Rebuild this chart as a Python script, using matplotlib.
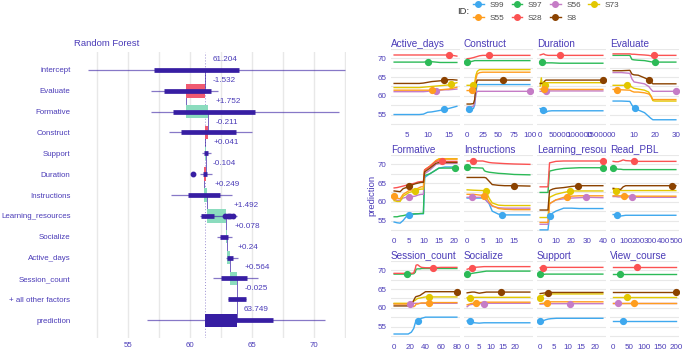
import numpy as np
import matplotlib.pyplot as plt
from matplotlib.lines import Line2D
from matplotlib.transforms import Bbox, TransformedBbox

plt.rcParams['font.family'] = ['Liberation Sans', 'DejaVu Sans']

W, H = 685, 352
PURPLE = "#371ea3"
TXT = "#4b3cb8"
GRID = "#e8e8e8"

# ---- break down (left) ----
bd_vars = ["intercept", "Evaluate", "Formative", "Construct", "Support", "Duration",
           "Instructions", "Learning_resources", "Socialize", "Active_days",
           "Session_count", "+ all other factors", "prediction"]
bd_intercept = 61.204
bd_contrib = [-1.532, 1.752, -0.211, 0.041, -0.104, 0.249, 1.492, 0.078, 0.24, 0.564, -0.025]
bd_prediction = 63.749

# boxplot summaries per row (whiskers, box)
bd_whisk_lo = [51.77, 56.85, 56.85, 58.31, 60.97, 60.81, 58.47, 60.81, 62.20, 62.90, 61.85, 63.06, 56.53]
bd_whisk_hi = [72.50, 62.26, 72.02, 65.00, 61.69, 61.77, 63.39, 63.79, 63.40, 63.87, 65.48, 64.52, 70.89]
bd_box_lo = [57.10, 57.90, 58.63, 59.27, 61.13, 61.05, 59.84, 60.89, 62.40, 62.98, 62.50, 63.06, 61.29]
bd_box_hi = [63.95, 61.69, 65.24, 63.71, 61.45, 61.37, 62.42, 61.94, 63.05, 63.47, 64.60, 64.52, 66.69]
bd_outlier_row = [5, 7, 7, 7, 7]
bd_outlier_val = [60.24, 62.85, 63.05, 63.25, 63.45]

# ---- ceteris paribus profiles (right) ----
ids = ["S99", "S97", "S56", "S73", "S55", "S28", "S8"]
id_colors = ["#3ea8ee", "#2cba57", "#c57cc6", "#e2c700", "#ff9d1e", "#fb5252", "#8b4200"]

# each *_y list holds one profile per ID, in the order of `ids`
active_days_x = [2, 4, 6, 8, 9, 10, 11, 12, 13, 14, 15, 16, 17]
active_days_y = [
    [55.0, 55.0, 55.0, 55.0, 55.1, 55.6, 55.7, 55.9, 56.1, 56.4, 56.6, 56.9, 57.2],
    [69.0, 69.0, 69.0, 69.0, 69.0, 69.1, 69.1, 69.0, 68.9, 68.9, 68.9, 68.9, 68.9],
    [61.1, 61.1, 61.1, 61.1, 61.1, 61.2, 61.3, 61.3, 61.5, 61.6, 61.6, 61.7, 61.8],
    [62.2, 62.2, 62.2, 62.2, 62.3, 62.4, 62.5, 62.6, 62.7, 62.8, 62.9, 63.2, 63.5],
    [61.5, 61.5, 61.5, 61.5, 61.5, 61.5, 61.5, 61.5, 61.6, 61.7, 61.8, 62.0, 62.3],
    [70.9, 70.9, 70.9, 70.9, 70.9, 70.9, 70.9, 70.9, 70.9, 70.9, 70.9, 70.8, 70.6],
    [63.3, 63.3, 63.3, 63.3, 63.4, 63.6, 63.8, 63.9, 64.0, 64.2, 64.3, 64.3, 64.2]]
active_days_obs = [14, 10, 12, 15.5, 11, 15, 14]

construct_x = [0, 5, 10, 12, 14, 16, 18, 20, 25, 40, 60, 80, 100]
construct_y = [
    [56.5, 56.5, 56.6, 57.5, 61.0, 63.0, 63.0, 63.0, 63.0, 63.0, 63.0, 63.0, 63.0],
    [69.0, 69.1, 69.3, 69.4, 69.4, 69.4, 69.4, 69.4, 69.4, 69.4, 69.4, 69.4, 69.4],
    [57.0, 57.0, 57.2, 58.0, 60.5, 61.2, 61.2, 61.2, 61.2, 61.2, 61.2, 61.2, 61.2],
    [62.8, 62.8, 62.9, 63.5, 65.5, 66.5, 66.8, 67.0, 67.0, 67.0, 67.0, 67.0, 67.0],
    [61.4, 61.4, 61.5, 62.5, 64.5, 65.8, 66.0, 66.2, 66.3, 66.3, 66.3, 66.3, 66.3],
    [69.9, 70.0, 70.2, 70.3, 70.4, 70.5, 70.6, 70.7, 70.8, 70.8, 70.8, 70.8, 70.8],
    [57.8, 57.8, 57.9, 59.0, 63.0, 64.2, 64.2, 64.2, 64.2, 64.2, 64.2, 64.2, 64.2]]
construct_obs = [3, 0, 100, 9, 8, 35, 57]

duration_x = [0, 3000, 6000, 9000, 12000, 15000, 20000, 30000, 50000, 80000, 120000, 160000]
duration_y = [
    [56.6, 56.5, 56.4, 56.3, 55.8, 55.6, 55.9, 56.0, 56.0, 56.0, 56.0, 56.0],
    [69.1, 69.1, 69.0, 68.9, 68.8, 68.8, 68.8, 68.8, 68.7, 68.7, 68.7, 68.7],
    [61.2, 61.2, 61.1, 61.1, 61.2, 61.3, 61.3, 61.3, 61.3, 61.3, 61.3, 61.3],
    [62.6, 64.8, 62.5, 63.8, 62.9, 63.5, 63.5, 63.5, 63.5, 63.5, 63.5, 63.5],
    [61.8, 61.8, 61.7, 61.7, 61.7, 61.7, 61.7, 61.7, 61.7, 61.7, 61.7, 61.7],
    [70.9, 71.0, 71.1, 71.2, 71.0, 70.9, 70.8, 70.8, 70.8, 70.8, 70.8, 70.8],
    [63.3, 63.3, 63.3, 63.3, 64.0, 64.2, 64.2, 64.2, 64.2, 64.2, 64.2, 64.2]]
duration_obs = [8000, 5000, 15000, 12000, 10000, 50000, 160000]

evaluate_x = [0, 4, 8, 9, 10, 12, 15, 17, 18, 19, 20, 25, 30]
evaluate_y = [
    [58.6, 58.6, 58.5, 57.5, 56.8, 56.2, 55.5, 54.5, 54.0, 53.6, 53.6, 53.6, 53.6],
    [70.8, 70.8, 70.8, 69.7, 69.6, 69.5, 69.4, 69.2, 69.1, 69.0, 69.0, 69.0, 69.0],
    [66.2, 66.2, 66.0, 64.5, 63.7, 63.5, 63.2, 62.5, 61.8, 61.2, 61.2, 61.2, 61.2],
    [62.8, 62.8, 62.8, 62.3, 62.0, 61.8, 61.5, 61.0, 60.0, 58.7, 58.6, 58.6, 58.6],
    [61.7, 61.6, 61.5, 61.2, 61.0, 61.0, 60.8, 60.5, 60.0, 59.0, 59.0, 59.0, 59.0],
    [71.2, 71.2, 71.2, 71.1, 71.1, 71.0, 70.9, 70.8, 70.7, 70.8, 70.8, 70.8, 70.8],
    [66.7, 66.7, 66.8, 65.8, 65.6, 65.5, 64.8, 64.3, 63.8, 63.2, 63.2, 63.2, 63.2]]
evaluate_obs = [10.5, 20, 30, 6.5, 2, 19.5, 17]

formative_x = [0, 1, 2, 3, 4, 5, 7, 8, 9, 9.8, 10.2, 12, 14, 15, 17, 21]
formative_y = [
    [54.6, 54.4, 54.3, 55.0, 56.0, 56.5, 56.7, 56.8, 56.8, 56.8, 66.5, 67.5, 68.5, 69.0, 69.3, 69.3],
    [56.0, 56.0, 56.2, 56.3, 56.5, 56.7, 56.8, 56.8, 56.9, 56.9, 67.0, 67.5, 68.5, 69.0, 69.0, 69.0],
    [60.5, 60.4, 60.4, 61.0, 61.2, 61.3, 61.5, 61.8, 62.0, 62.0, 67.5, 68.5, 70.0, 70.2, 70.3, 70.3],
    [60.3, 60.1, 60.1, 61.5, 62.0, 62.5, 62.9, 63.2, 63.4, 63.4, 68.5, 69.5, 71.0, 71.5, 71.5, 71.5],
    [61.5, 61.0, 60.8, 62.0, 62.5, 63.0, 63.3, 63.6, 64.0, 64.0, 68.5, 69.5, 71.0, 71.3, 71.4, 71.4],
    [63.7, 63.8, 64.0, 64.2, 64.4, 64.6, 65.0, 65.3, 65.4, 65.4, 68.5, 69.5, 70.8, 70.9, 70.8, 70.8],
    [62.9, 62.8, 62.7, 63.5, 63.8, 64.2, 64.8, 65.0, 65.2, 65.2, 68.0, 69.0, 70.3, 70.5, 70.5, 70.5]]
formative_obs = [5, 20.5, 5, 7, 0, 16, 5]

instructions_x = [0, 2, 5, 5.5, 6, 7, 8, 10, 12, 15, 20]
instructions_y = [
    [61.0, 61.0, 61.0, 60.8, 60.5, 59.5, 57.5, 56.7, 56.5, 56.5, 56.5],
    [69.2, 69.1, 69.0, 68.3, 68.1, 67.9, 67.8, 67.6, 67.5, 67.3, 67.2],
    [61.2, 61.2, 61.2, 61.0, 60.4, 59.6, 58.8, 58.4, 58.3, 58.3, 58.3],
    [63.2, 63.1, 63.0, 62.9, 62.9, 61.0, 59.7, 59.1, 59.0, 59.0, 59.0],
    [62.0, 62.0, 61.7, 61.6, 61.4, 60.0, 59.0, 58.2, 58.0, 57.9, 57.9],
    [70.9, 70.9, 70.9, 70.8, 70.7, 70.5, 70.4, 70.3, 70.2, 70.1, 70.0],
    [66.5, 66.5, 66.5, 66.5, 66.4, 65.5, 64.6, 64.4, 64.3, 64.3, 64.2]]
instructions_obs = [11, 0, 1.5, 6, 5.5, 2, 15]

learning_x = [0, 5, 6, 8, 10, 15, 20, 25, 30, 40]
learning_y = [
    [52.5, 52.5, 56.2, 57.0, 57.5, 58.3, 58.3, 58.2, 58.2, 58.2],
    [62.5, 62.5, 68.2, 68.4, 68.6, 68.9, 69.0, 69.1, 69.1, 69.1],
    [54.0, 54.0, 59.5, 60.0, 60.5, 60.8, 61.0, 61.1, 61.2, 61.1],
    [55.8, 55.8, 61.2, 61.6, 62.0, 62.5, 62.9, 62.9, 62.9, 62.9],
    [54.5, 54.5, 59.5, 60.0, 60.5, 61.2, 61.5, 61.6, 61.6, 61.6],
    [64.0, 64.0, 70.4, 70.6, 70.8, 70.9, 70.9, 70.9, 70.9, 70.9],
    [57.8, 57.8, 63.0, 63.4, 63.6, 63.8, 64.1, 64.3, 64.3, 64.3]]
learning_obs = [6, 40, 29, 19, 17, 40, 24]

read_pbl_x = [0, 20, 40, 60, 80, 100, 150, 200, 300, 400, 500]
read_pbl_y = [
    [56.6, 56.6, 56.5, 56.2, 56.3, 56.4, 56.4, 56.4, 56.4, 56.4, 56.4],
    [69.1, 68.9, 68.7, 68.7, 68.6, 68.6, 68.6, 68.6, 68.6, 68.6, 68.6],
    [61.4, 61.4, 61.3, 61.3, 61.3, 61.3, 61.3, 61.2, 61.2, 61.2, 61.2],
    [63.3, 62.8, 63.4, 63.0, 63.0, 63.0, 63.0, 63.0, 63.0, 63.0, 63.0],
    [61.6, 61.6, 61.6, 61.6, 61.6, 61.6, 61.5, 61.5, 61.5, 61.5, 61.5],
    [70.8, 70.7, 70.7, 70.9, 71.2, 71.0, 70.9, 70.8, 70.8, 70.8, 70.8],
    [63.6, 63.5, 63.4, 63.3, 64.0, 64.3, 64.3, 64.3, 64.3, 64.3, 64.3]]
read_pbl_obs = [30, 0, 150, 20, 90, 170, 470]

session_x = [0, 10, 18, 22, 25, 27, 28, 30, 33, 35, 40, 50, 60, 80]
session_y = [
    [53.0, 53.0, 53.0, 53.5, 54.5, 56.0, 56.3, 56.4, 57.0, 57.2, 57.5, 57.5, 57.5, 57.5],
    [69.0, 69.0, 69.0, 69.0, 69.1, 69.5, 70.3, 70.4, 70.4, 70.5, 70.5, 70.5, 70.5, 70.5],
    [61.1, 61.1, 61.1, 61.1, 61.2, 61.2, 61.2, 61.2, 61.2, 61.2, 61.2, 61.2, 61.2, 61.2],
    [61.2, 61.2, 61.2, 61.3, 61.8, 62.0, 62.2, 62.5, 62.6, 62.7, 62.9, 62.9, 62.9, 62.9],
    [61.0, 61.0, 61.0, 60.5, 60.3, 60.6, 61.0, 61.0, 61.2, 61.3, 61.3, 61.4, 61.4, 61.4],
    [69.2, 69.2, 69.2, 69.2, 69.3, 70.5, 71.4, 71.5, 71.0, 70.8, 70.7, 70.7, 70.8, 70.8],
    [60.5, 60.5, 60.5, 60.8, 62.0, 62.8, 63.0, 63.1, 63.3, 63.6, 64.3, 64.3, 64.3, 64.3]]
session_obs = [30, 17, 20, 44, 44, 50, 80]

socialize_x = [0, 1, 2, 3, 5, 7, 8, 10, 14, 20, 26]
socialize_y = [
    [56.5, 56.4, 56.2, 56.0, 55.9, 56.0, 56.0, 56.0, 56.0, 56.0, 56.0],
    [68.9, 69.0, 69.2, 69.3, 69.5, 69.7, 69.8, 69.8, 69.8, 69.8, 69.8],
    [60.3, 60.8, 60.9, 61.0, 61.1, 61.1, 61.2, 61.2, 61.2, 61.2, 61.2],
    [62.7, 62.7, 62.8, 62.8, 62.8, 62.8, 62.8, 62.8, 62.8, 62.8, 62.8],
    [60.8, 61.0, 61.2, 61.2, 61.4, 61.5, 61.5, 61.5, 61.5, 61.5, 61.5],
    [70.3, 70.5, 70.7, 70.8, 70.9, 71.0, 71.0, 71.0, 71.0, 71.0, 71.0],
    [64.0, 64.1, 64.2, 64.2, 63.9, 64.1, 64.2, 64.2, 64.2, 64.2, 64.2]]
socialize_obs = [1, 0, 7, 1, 3.5, 2, 14]

support_x = [0, 1, 2, 3, 4, 6, 10, 15, 23]
support_y = [
    [56.4, 56.5, 56.8, 57.0, 57.1, 57.2, 57.2, 57.2, 57.2],
    [68.9, 68.9, 69.0, 69.0, 69.0, 69.0, 69.0, 69.0, 69.0],
    [61.0, 61.0, 61.1, 61.1, 61.1, 61.1, 61.1, 61.1, 61.1],
    [62.7, 63.3, 63.6, 63.7, 63.7, 63.7, 63.7, 63.7, 63.7],
    [61.1, 61.2, 61.3, 61.5, 61.6, 61.6, 61.6, 61.6, 61.6],
    [70.7, 70.7, 70.8, 70.8, 70.8, 70.8, 70.8, 70.8, 70.8],
    [63.8, 63.9, 64.0, 64.0, 64.1, 64.1, 64.1, 64.1, 64.1]]
support_obs = [0, 0, 11, 0, 2.5, 1, 3]

view_course_x = [0, 50, 100, 150, 200]
view_course_y = [
    [56.5, 56.5, 56.5, 56.5, 56.5],
    [69.0, 69.0, 69.0, 69.0, 69.0],
    [61.2, 61.2, 61.2, 61.2, 61.2],
    [62.8, 62.8, 62.8, 62.8, 62.8],
    [61.4, 61.4, 61.4, 61.4, 61.4],
    [70.8, 70.8, 70.8, 70.8, 70.8],
    [64.2, 64.2, 64.2, 64.2, 64.2]]
view_course_obs = [30, 22, 15, 45, 65, 75, 200]

panels = [
    ("Active_days", active_days_x, active_days_y, active_days_obs, [5, 10, 15]),
    ("Construct", construct_x, construct_y, construct_obs, [0, 25, 50, 75, 100]),
    ("Duration", duration_x, duration_y, duration_obs, [0, 50000, 100000, 150000]),
    ("Evaluate", evaluate_x, evaluate_y, evaluate_obs, [0, 10, 20, 30]),
    ("Formative", formative_x, formative_y, formative_obs, [0, 5, 10, 15, 20]),
    ("Instructions", instructions_x, instructions_y, instructions_obs, [0, 5, 10, 15]),
    ("Learning_resources", learning_x, learning_y, learning_obs, [0, 10, 20, 30, 40]),
    ("Read_PBL", read_pbl_x, read_pbl_y, read_pbl_obs, [0, 100, 200, 300, 400, 500]),
    ("Session_count", session_x, session_y, session_obs, [0, 20, 40, 60, 80]),
    ("Socialize", socialize_x, socialize_y, socialize_obs, [0, 5, 10, 15, 20]),
    ("Support", support_x, support_y, support_obs, [0, 5, 10, 15, 20]),
    ("View_course", view_course_x, view_course_y, view_course_obs, [0, 50, 100, 150, 200]),
]

fig = plt.figure(figsize=(W / 100, H / 100), dpi=100)


def fmt(v, sign):
    s = f"{v:+.3f}" if sign else f"{v:.3f}"
    return s.rstrip("0").rstrip(".")


# ---------- left: break down with boxplots ----------
ax = fig.add_axes([85 / W, 1 - 338 / H, 261 / W, 286 / H])
n = len(bd_vars)
ypos = -np.arange(n)
ends = bd_intercept + np.cumsum(bd_contrib)
starts = np.concatenate([[bd_intercept], ends[:-1]])

ax.axvline(bd_intercept, color=PURPLE, lw=0.7, ls=(0, (1, 2)), alpha=0.5, zorder=1)
levels = np.concatenate([[bd_intercept], ends])
for i, lv in enumerate(levels):
    ax.plot([lv, lv], [ypos[i], ypos[i + 1]], color=PURPLE, lw=0.6, alpha=0.8, zorder=2)

cols = ["#8bdcbe" if c > 0 else "#f05a71" for c in bd_contrib]
ax.barh(ypos[1:-1], ends - starts, left=starts, height=0.65, color=cols, zorder=3)
ax.barh(ypos[-1], bd_prediction - bd_intercept, left=bd_intercept, height=0.62,
        color=PURPLE, zorder=3)

ax.hlines(ypos, bd_whisk_lo, bd_whisk_hi, color=PURPLE, lw=0.9, alpha=0.6, zorder=4)
ax.hlines(ypos, bd_box_lo, bd_box_hi, color=PURPLE, lw=3.4, zorder=5)
ax.plot(bd_outlier_val, -np.array(bd_outlier_row), "o", color=PURPLE, ms=3.2, zorder=5)

labels = [fmt(bd_intercept, False)] + [fmt(c, True) for c in bd_contrib] + [fmt(bd_prediction, False)]
lab_x = [bd_intercept] + list(np.maximum(starts, ends)) + [bd_prediction]
for i, (lx, lab) in enumerate(zip(lab_x, labels)):
    ax.text(lx + 0.6, ypos[i] + 0.5, lab, fontsize=5.9, color=TXT, ha="left", va="center", zorder=6)

ax.set_xlim(51.5, 72.6)
ax.set_ylim(-12.86, 0.86)
ax.set_xticks([55, 60, 65, 70])
ax.set_xticks(np.arange(52.5, 73, 5), minor=True)
ax.set_yticks(ypos, bd_vars)
ax.grid(axis="x", which="both", color=GRID, lw=1.0, zorder=0)
ax.set_axisbelow(True)
ax.tick_params(axis="both", which="both", length=0, labelsize=5.7, labelcolor=TXT)
ax.tick_params(axis="y", pad=10.5)
ax.tick_params(axis="x", pad=3)
for sp in ax.spines.values():
    sp.set_visible(False)
fig.text(74 / W, 1 - 44 / H, "Random Forest", fontsize=6.8, color=TXT, ha="left", va="center")

# ---------- right: ceteris paribus profiles ----------
col_left = [391, 464, 537, 610]
row_top = [49, 155, 261]
pw, ph = 69, 79
for k, (name, xs, ys, obs, ticks) in enumerate(panels):
    r, c = divmod(k, 4)
    a = fig.add_axes([col_left[c] / W, 1 - (row_top[r] + ph) / H, pw / W, ph / H])
    xs = np.array(xs, dtype=float)
    for j in range(len(ids)):
        a.plot(xs, ys[j], color=id_colors[j], lw=1.0, zorder=3)
    for j in range(len(ids)):
        a.plot(obs[j], np.interp(obs[j], xs, ys[j]), "o", color=id_colors[j], ms=4.2, zorder=4)
    span = xs.max() - xs.min()
    a.set_xlim(xs.min() - 0.05 * span, xs.max() + 0.05 * span)
    a.set_ylim(51.4, 72.5)
    a.set_yticks([55, 60, 65, 70])
    a.set_yticks([52.5, 57.5, 62.5, 67.5, 72.5], minor=True)
    a.set_xticks(ticks, [f"{t:g}" for t in ticks])
    a.grid(axis="y", which="both", color=GRID, lw=0.8, zorder=0)
    a.tick_params(axis="both", which="both", length=0, labelsize=5.8, labelcolor=TXT, pad=3)
    if c != 0:
        a.tick_params(axis="y", labelleft=False)
    for sp in a.spines.values():
        sp.set_visible(False)
    t = a.text(0, 1.005, name, transform=a.transAxes, fontsize=7.2, color=TXT,
               ha="left", va="bottom")
    t.set_clip_box(TransformedBbox(Bbox([[0, 0], [1, 1.4]]), a.transAxes))
    t.set_clip_on(True)

fig.text(372 / W, 1 - 195 / H, "prediction", rotation=90, fontsize=6.8, color=TXT,
         ha="center", va="center")

# legend (row-major order S99 S97 S56 S73 / S55 S28 S8)
handles = [Line2D([], [], color=cl, lw=1.0, marker="o", ms=4) for cl in id_colors]
order = [0, 4, 1, 5, 2, 6, 3]
fig.legend([handles[i] for i in order], [ids[i] for i in order], ncol=4,
           loc="upper left", bbox_to_anchor=(473 / W, 0.997), frameon=False,
           fontsize=5.9, labelcolor="#4d4d4d", handlelength=1.3, handletextpad=0.7,
           columnspacing=0.9, labelspacing=0.7, borderpad=0.0, borderaxespad=0.0)
fig.text(457 / W, 1 - 11 / H, "ID:", fontsize=6.8, color="#333333", ha="left", va="center")

fig.savefig("out.png", dpi=100)
